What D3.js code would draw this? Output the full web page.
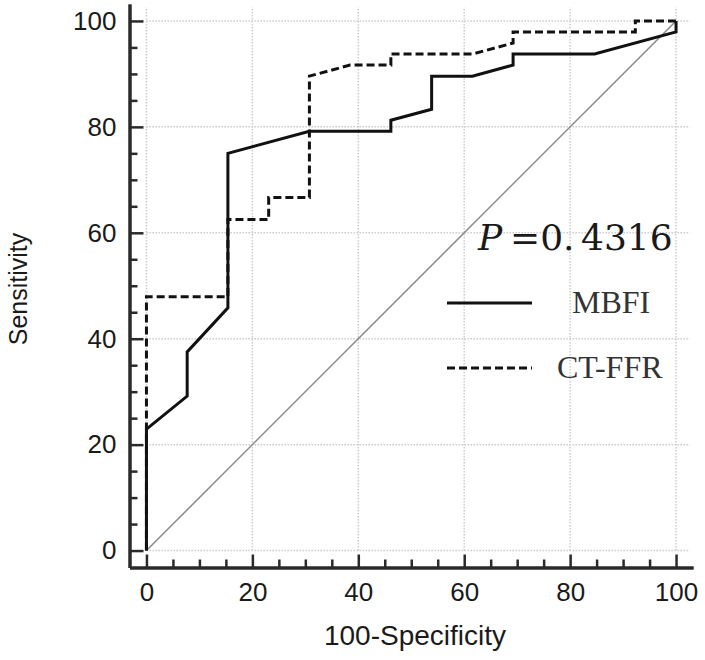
<!DOCTYPE html>
<html>
<head>
<meta charset="utf-8">
<script src="https://cdn.jsdelivr.net/npm/d3@7/dist/d3.min.js"></script>
<style>
  body { margin: 0; background: #fff; }
  svg { display: block; }
</style>
</head>
<body>
<div id="chart"></div>
<script>
// ROC curves, values in percent
const mbfiX = [0, 0, 7.69, 7.69, 15.38, 15.38, 30.77, 46.15, 46.15, 53.85, 53.85, 61.54, 69.23, 69.23, 84.62, 100, 100];
const mbfiY = [0, 22.92, 29.17, 37.5, 45.83, 75, 79.17, 79.17, 81.25, 83.33, 89.58, 89.58, 91.67, 93.75, 93.75, 97.92, 100];

const ctffrX = [0, 0, 15.38, 15.38, 23.08, 23.08, 30.77, 30.77, 38.46, 46.15, 46.15, 61.54, 69.23, 69.23, 92.31, 92.31, 100];
const ctffrY = [0, 47.92, 47.92, 62.5, 62.5, 66.67, 66.67, 89.58, 91.67, 91.67, 93.75, 93.75, 95.83, 97.92, 97.92, 100, 100];

const majorTicks = [0, 20, 40, 60, 80, 100];
const minorTicks = [5, 10, 15, 25, 30, 35, 45, 50, 55, 65, 70, 75, 85, 90, 95];
const seriesNames = ["MBFI", "CT-FFR"];
const pLabel = ["P", "=0.", "4316"];

const width = 705, height = 660;

const svg = d3.select("#chart").append("svg")
  .attr("width", width)
  .attr("height", height);

const x = d3.scaleLinear().domain([-3.2, 103.2]).range([129.5, 693]);
const y = d3.scaleLinear().domain([-3.2, 103.2]).range([567.5, 4]);

// grid
const grid = svg.append("g").attr("stroke", "#cccccc").attr("stroke-width", 1.5)
  .attr("stroke-dasharray", "1.5,1.5");
grid.selectAll(".gx").data(majorTicks).enter().append("line")
  .attr("x1", d => x(d)).attr("x2", d => x(d))
  .attr("y1", y(0)).attr("y2", y(102.6));
grid.selectAll(".gy").data(majorTicks).enter().append("line")
  .attr("x1", x(0)).attr("x2", x(102.6))
  .attr("y1", d => y(d)).attr("y2", d => y(d));

// diagonal reference
svg.append("line")
  .attr("x1", x(0)).attr("y1", y(0))
  .attr("x2", x(100)).attr("y2", y(100))
  .attr("stroke", "#8a8a8a").attr("stroke-width", 1.5);

// axes
const tickFont = "'Liberation Sans', Arial, sans-serif";

function styleAxis(g) {
  g.select(".domain").attr("stroke", "#2a2a2a").attr("stroke-width", 3);
  g.selectAll(".tick line").attr("stroke", "#2a2a2a").attr("stroke-width", 2.5);
  g.selectAll(".tick text").attr("fill", "#1a1a1a")
    .style("font-family", tickFont).style("font-size", "26px");
}

svg.append("g")
  .attr("transform", `translate(${x.range()[0]},0)`)
  .call(d3.axisLeft(y).tickValues(minorTicks).tickSize(-8).tickSizeOuter(0).tickFormat(""))
  .call(styleAxis);
svg.append("g")
  .attr("transform", `translate(${x.range()[0]},0)`)
  .call(d3.axisLeft(y).tickValues(majorTicks).tickSize(-14).tickSizeOuter(0).tickPadding(13))
  .call(styleAxis);

svg.append("g")
  .attr("transform", `translate(0,${y.range()[0]})`)
  .call(d3.axisBottom(x).tickValues(minorTicks).tickSize(-8).tickSizeOuter(0).tickFormat(""))
  .call(styleAxis);
svg.append("g")
  .attr("transform", `translate(0,${y.range()[0]})`)
  .call(d3.axisBottom(x).tickValues(majorTicks).tickSize(-13).tickSizeOuter(0).tickPadding(15))
  .call(styleAxis);

// axis titles
svg.append("text")
  .attr("x", 415).attr("y", 645)
  .attr("text-anchor", "middle")
  .style("font-family", tickFont).style("font-size", "28px").attr("fill", "#1a1a1a")
  .text("100-Specificity");

svg.append("text")
  .attr("transform", "translate(27,289) rotate(-90)")
  .attr("text-anchor", "middle")
  .style("font-family", tickFont).style("font-size", "25px").attr("fill", "#1a1a1a")
  .text("Sensitivity");

// curves
const line = d3.line().x(d => x(d[0])).y(d => y(d[1]));

svg.append("path")
  .datum(d3.zip(ctffrX, ctffrY))
  .attr("d", line)
  .attr("fill", "none").attr("stroke", "#111")
  .attr("stroke-width", 3).attr("stroke-dasharray", "8,4");

svg.append("path")
  .datum(d3.zip(mbfiX, mbfiY))
  .attr("d", line)
  .attr("fill", "none").attr("stroke", "#111")
  .attr("stroke-width", 3);

// P value
const pText = svg.append("text")
  .attr("y", 250)
  .style("font-family", "'DejaVu Serif', serif").style("font-size", "36px")
  .attr("fill", "#1a1a1a");
pText.append("tspan").attr("x", 478).style("font-style", "italic").text(pLabel[0]);
pText.append("tspan").attr("x", 510).text(pLabel[1]);
pText.append("tspan").attr("x", 581).text(pLabel[2]);

// legend
const legend = svg.append("g");
const legendY = [303, 368];
legend.selectAll("line").data(seriesNames).enter().append("line")
  .attr("x1", 447).attr("x2", 532)
  .attr("y1", (d, i) => legendY[i]).attr("y2", (d, i) => legendY[i])
  .attr("stroke", "#111").attr("stroke-width", 3)
  .attr("stroke-dasharray", (d, i) => i === 1 ? "8,4" : null);
legend.selectAll("text").data(seriesNames).enter().append("text")
  .attr("x", (d, i) => i === 0 ? 572 : 557)
  .attr("y", (d, i) => legendY[i] + 10)
  .style("font-family", "'Liberation Serif', 'Times New Roman', serif")
  .style("font-size", "32px").attr("fill", "#333")
  .text(d => d);
</script>
</body>
</html>
